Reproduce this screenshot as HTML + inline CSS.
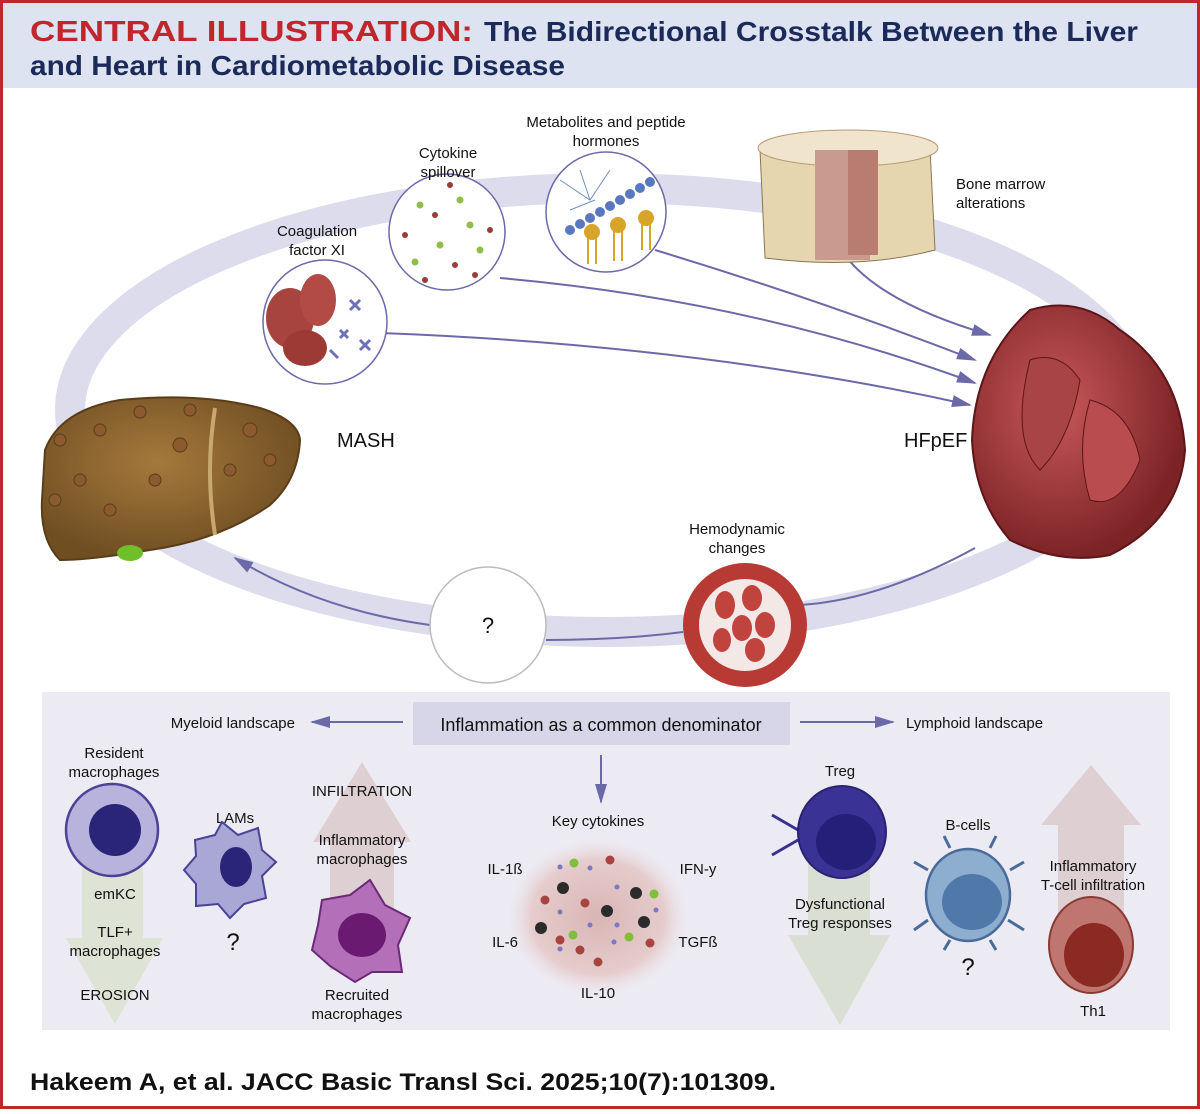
<!DOCTYPE html>
<html><head><meta charset="utf-8"><style>
html,body{margin:0;padding:0;background:#fff}
body{width:1200px;height:1109px;overflow:hidden;font-family:"Liberation Sans",sans-serif}
svg text{font-family:"Liberation Sans",sans-serif}
</style></head><body>
<svg width="1200" height="1109" viewBox="0 0 1200 1109" xmlns="http://www.w3.org/2000/svg">
<defs>
<marker id="ah2" markerWidth="20" markerHeight="12" refX="18" refY="6" orient="auto" markerUnits="userSpaceOnUse"><path d="M0,0 L20,6 L0,12 Z" fill="#6b69a8"/></marker>
<radialGradient id="cyt" cx="50%" cy="50%" r="50%"><stop offset="0" stop-color="#d9b5b5"/><stop offset="0.7" stop-color="#e6cccc"/><stop offset="1" stop-color="#ecebf3" stop-opacity="0"/></radialGradient>
<radialGradient id="liv" cx="45%" cy="40%" r="60%"><stop offset="0" stop-color="#a5793c"/><stop offset="1" stop-color="#6f4e22"/></radialGradient>
<radialGradient id="hrt" cx="40%" cy="40%" r="60%"><stop offset="0" stop-color="#c8585a"/><stop offset="1" stop-color="#7c2326"/></radialGradient>
</defs>
<rect x="0" y="0" width="1200" height="1109" fill="#fff"/>
<rect x="0" y="0" width="1200" height="88" fill="#dde3f1"/>
<rect x="1.5" y="1.5" width="1197" height="1106" fill="none" stroke="#c0272d" stroke-width="3"/>
<text x="30" y="41" font-size="29" font-weight="bold" fill="#c0272d" textLength="443" lengthAdjust="spacingAndGlyphs">CENTRAL ILLUSTRATION:</text>
<text x="484" y="41" font-size="28" font-weight="bold" fill="#1c2a5a" textLength="654" lengthAdjust="spacingAndGlyphs">The Bidirectional Crosstalk Between the Liver</text>
<text x="30" y="75" font-size="28" font-weight="bold" fill="#1c2a5a" textLength="535" lengthAdjust="spacingAndGlyphs">and Heart in Cardiometabolic Disease</text>

<!-- ring -->
<ellipse cx="605" cy="410" rx="535" ry="222" fill="none" stroke="#dcdcec" stroke-width="30"/>

<!-- arrows to heart -->
<path d="M380,333 Q700,345 970,405" fill="none" stroke="#6b69a8" stroke-width="2" marker-end="url(#ah2)"/>
<path d="M500,278 Q750,300 975,383" fill="none" stroke="#6b69a8" stroke-width="2" marker-end="url(#ah2)"/>
<path d="M655,250 Q820,300 975,360" fill="none" stroke="#6b69a8" stroke-width="2" marker-end="url(#ah2)"/>
<path d="M838,245 Q870,300 990,335" fill="none" stroke="#6b69a8" stroke-width="2" marker-end="url(#ah2)"/>
<path d="M975,548 Q880,600 800,605" fill="none" stroke="#6b69a8" stroke-width="2"/>
<path d="M683,632 Q620,640 546,640" fill="none" stroke="#6b69a8" stroke-width="2"/>
<path d="M430,625 Q320,610 235,558" fill="none" stroke="#6b69a8" stroke-width="2" marker-end="url(#ah2)"/>

<!-- coag circle -->
<circle cx="325" cy="322" r="62" fill="#fff" stroke="#6b69a8" stroke-width="1.5"/>
<ellipse cx="290" cy="318" rx="24" ry="30" fill="#a8443f"/>
<ellipse cx="318" cy="300" rx="18" ry="26" fill="#b24a45"/>
<ellipse cx="305" cy="348" rx="22" ry="18" fill="#9c3a36"/>
<g stroke="#6d72b8" stroke-width="3"><path d="M350,300 l10,10 m0,-10 l-10,10"/><path d="M360,340 l10,10 m0,-10 l-10,10"/><path d="M340,330 l8,8 m0,-8 l-8,8"/><path d="M330,350 l8,8"/></g>
<text x="317" y="236" font-size="15" text-anchor="middle" fill="#111">Coagulation</text>
<text x="317" y="255" font-size="15" text-anchor="middle" fill="#111">factor XI</text>

<!-- cytokine circle -->
<circle cx="447" cy="232" r="58" fill="#fff" stroke="#6b69a8" stroke-width="1.5"/>
<g fill="#8fbf4a"><circle cx="420" cy="205" r="3.5"/><circle cx="460" cy="200" r="3.5"/><circle cx="440" cy="245" r="3.5"/><circle cx="480" cy="250" r="3.5"/><circle cx="415" cy="262" r="3.5"/><circle cx="470" cy="225" r="3.5"/></g>
<g fill="#9a3c3a"><circle cx="435" cy="215" r="3"/><circle cx="455" cy="265" r="3"/><circle cx="405" cy="235" r="3"/><circle cx="490" cy="230" r="3"/><circle cx="425" cy="280" r="3"/><circle cx="475" cy="275" r="3"/><circle cx="450" cy="185" r="3"/></g>
<text x="448" y="158" font-size="15" text-anchor="middle" fill="#111">Cytokine</text>
<text x="448" y="177" font-size="15" text-anchor="middle" fill="#111">spillover</text>

<!-- metabolites circle -->
<circle cx="606" cy="212" r="60" fill="#fff" stroke="#6b69a8" stroke-width="1.5"/>
<g stroke="#7090c0" stroke-width="1" fill="none"><path d="M560,180 l30,20 l20,-30 M570,210 l25,-10 M580,170 l10,30"/></g>
<g fill="#5a78c0"><circle cx="570" cy="230" r="5"/><circle cx="580" cy="224" r="5"/><circle cx="590" cy="218" r="5"/><circle cx="600" cy="212" r="5"/><circle cx="610" cy="206" r="5"/><circle cx="620" cy="200" r="5"/><circle cx="630" cy="194" r="5"/><circle cx="640" cy="188" r="5"/><circle cx="650" cy="182" r="5"/></g>
<g fill="#d9a42a" stroke="#d9a42a" stroke-width="2"><circle cx="592" cy="232" r="7"/><circle cx="618" cy="225" r="7"/><circle cx="646" cy="218" r="7"/><path d="M588,238 v26 M596,238 v26 M614,231 v30 M622,231 v30 M642,224 v26 M650,224 v26" fill="none"/></g>
<text x="606" y="127" font-size="15" text-anchor="middle" fill="#111">Metabolites and peptide</text>
<text x="606" y="146" font-size="15" text-anchor="middle" fill="#111">hormones</text>

<!-- bone marrow -->
<path d="M760,150 Q840,130 930,148 L935,250 Q860,270 765,258 Z" fill="#e5d6b0" stroke="#8a7650"/>
<ellipse cx="848" cy="148" rx="90" ry="18" fill="#f1e4cc" stroke="#b89a78"/>
<rect x="815" y="150" width="55" height="110" fill="#c99b90"/>
<rect x="848" y="150" width="30" height="105" fill="#b87c70"/>
<text x="956" y="189" font-size="15" fill="#111">Bone marrow</text>
<text x="956" y="208" font-size="15" fill="#111">alterations</text>

<!-- liver -->
<path d="M45,450 Q60,410 120,400 Q200,392 260,408 Q298,420 300,440 Q298,480 270,505 Q220,540 150,550 Q90,560 60,560 Q40,540 42,500 Z" fill="url(#liv)" stroke="#5a3d18" stroke-width="2"/>
<path d="M215,408 Q205,470 215,535" stroke="#c9a870" stroke-width="4" fill="none"/>
<ellipse cx="130" cy="553" rx="13" ry="8" fill="#6fbf2a"/>
<g fill="#8b5a2e" stroke="#5a3d18"><circle cx="100" cy="430" r="6"/><circle cx="140" cy="412" r="6"/><circle cx="180" cy="445" r="7"/><circle cx="250" cy="430" r="7"/><circle cx="270" cy="460" r="6"/><circle cx="80" cy="480" r="6"/><circle cx="155" cy="480" r="6"/><circle cx="110" cy="510" r="6"/><circle cx="230" cy="470" r="6"/><circle cx="55" cy="500" r="6"/><circle cx="190" cy="410" r="6"/><circle cx="60" cy="440" r="6"/></g>
<text x="337" y="447" font-size="20" fill="#111">MASH</text>

<!-- heart -->
<path d="M1030,310 Q1080,295 1120,330 Q1180,370 1185,450 Q1180,520 1110,555 Q1060,565 1010,540 Q975,500 972,440 Q975,360 1030,310 Z" fill="url(#hrt)" stroke="#5d1518" stroke-width="2"/>
<path d="M1030,360 Q1060,350 1080,380 Q1070,440 1040,470 Q1010,440 1030,360 Z" fill="#a94446" stroke="#5d1518"/>
<path d="M1090,400 Q1130,410 1140,460 Q1120,510 1090,500 Q1075,450 1090,400 Z" fill="#b84c4e" stroke="#5d1518"/>
<text x="904" y="447" font-size="20" fill="#111">HFpEF</text>

<!-- question circle -->
<circle cx="488" cy="625" r="58" fill="#fff" stroke="#bbb" stroke-width="1.5"/>
<text x="488" y="633" font-size="22" text-anchor="middle" fill="#111">?</text>

<!-- hemodynamic -->
<circle cx="745" cy="625" r="62" fill="#b83a34"/>
<circle cx="745" cy="625" r="46" fill="#f3e8e6"/>
<g fill="#c1433d"><ellipse cx="725" cy="605" rx="10" ry="14"/><ellipse cx="752" cy="598" rx="10" ry="13"/><ellipse cx="765" cy="625" rx="10" ry="13"/><ellipse cx="742" cy="628" rx="10" ry="13"/><ellipse cx="722" cy="640" rx="9" ry="12"/><ellipse cx="755" cy="650" rx="10" ry="12"/></g>
<text x="737" y="534" font-size="15" text-anchor="middle" fill="#111">Hemodynamic</text>
<text x="737" y="553" font-size="15" text-anchor="middle" fill="#111">changes</text>

<!-- bottom panel -->
<rect x="42" y="692" width="1128" height="338" fill="#ecebf3"/>
<rect x="413" y="702" width="377" height="43" fill="#d6d6e8"/>
<text x="601" y="731" font-size="18" text-anchor="middle" fill="#111">Inflammation as a common denominator</text>
<line x1="403" y1="722" x2="312" y2="722" stroke="#6b69a8" stroke-width="2" marker-end="url(#ah2)"/>
<line x1="800" y1="722" x2="893" y2="722" stroke="#6b69a8" stroke-width="2" marker-end="url(#ah2)"/>
<line x1="601" y1="755" x2="601" y2="802" stroke="#6b69a8" stroke-width="2" marker-end="url(#ah2)"/>
<text x="295" y="728" font-size="15" text-anchor="end" fill="#111">Myeloid landscape</text>
<text x="906" y="728" font-size="15" fill="#111">Lymphoid landscape</text>

<path d="M82,868 L143,868 L143,938 L163,938 L115,1024 L66,938 L82,938 Z" fill="#dde4d6"/>
<path d="M362,762 L411,842 L394,842 L394,970 L330,970 L330,842 L313,842 Z" fill="#ddcfd2"/>
<path d="M1091,765 L1141,825 L1124,825 L1124,960 L1058,960 L1058,825 L1041,825 Z" fill="#ddcfd2"/>
<path d="M808,850 L870,850 L870,935 L890,935 L840,1025 L788,935 L808,935 Z" fill="#d9e0d3"/>

<text x="114" y="758" font-size="15" text-anchor="middle" fill="#111">Resident</text>
<text x="114" y="777" font-size="15" text-anchor="middle" fill="#111">macrophages</text>
<circle cx="112" cy="830" r="46" fill="#b7b3dd" stroke="#4b4196" stroke-width="2.5"/>
<circle cx="115" cy="830" r="26" fill="#2a2578"/>
<text x="115" y="899" font-size="15" text-anchor="middle" fill="#111">emKC</text>
<text x="115" y="937" font-size="15" text-anchor="middle" fill="#111">TLF+</text>
<text x="115" y="956" font-size="15" text-anchor="middle" fill="#111">macrophages</text>
<text x="115" y="1000" font-size="15" text-anchor="middle" fill="#111">EROSION</text>

<text x="235" y="823" font-size="15" text-anchor="middle" fill="#111">LAMs</text>
<path d="M195,840 L215,835 L222,822 L238,835 L258,828 L262,850 L276,862 L262,876 L266,898 L244,904 L230,918 L218,904 L196,906 L196,884 L184,870 L196,856 Z" fill="#a8a7d6" stroke="#4b4196" stroke-width="2"/>
<ellipse cx="236" cy="867" rx="16" ry="20" fill="#2a2578"/>
<text x="233" y="950" font-size="24" text-anchor="middle" fill="#111">?</text>

<text x="362" y="796" font-size="15" text-anchor="middle" fill="#111">INFILTRATION</text>
<text x="362" y="845" font-size="15" text-anchor="middle" fill="#111">Inflammatory</text>
<text x="362" y="864" font-size="15" text-anchor="middle" fill="#111">macrophages</text>
<path d="M322,900 L350,895 L370,880 L385,905 L410,918 L398,945 L402,972 L372,972 L355,982 L330,966 L312,950 L318,925 Z" fill="#b370b8" stroke="#6a2a78" stroke-width="2"/>
<ellipse cx="362" cy="935" rx="24" ry="22" fill="#6a1a70"/>
<text x="357" y="1000" font-size="15" text-anchor="middle" fill="#111">Recruited</text>
<text x="357" y="1019" font-size="15" text-anchor="middle" fill="#111">macrophages</text>

<text x="598" y="826" font-size="15" text-anchor="middle" fill="#111">Key cytokines</text>
<ellipse cx="598" cy="917" rx="95" ry="82" fill="url(#cyt)"/>
<g fill="#2b2b2b"><circle cx="563" cy="888" r="6"/><circle cx="541" cy="928" r="6"/><circle cx="636" cy="893" r="6"/><circle cx="607" cy="911" r="6"/><circle cx="644" cy="922" r="6"/></g>
<g fill="#a8443f"><circle cx="545" cy="900" r="4.5"/><circle cx="585" cy="903" r="4.5"/><circle cx="610" cy="860" r="4.5"/><circle cx="650" cy="943" r="4.5"/><circle cx="580" cy="950" r="4.5"/><circle cx="598" cy="962" r="4.5"/><circle cx="560" cy="940" r="4.5"/></g>
<g fill="#7fbf3a"><circle cx="574" cy="863" r="4.5"/><circle cx="654" cy="894" r="4.5"/><circle cx="573" cy="935" r="4.5"/><circle cx="629" cy="937" r="4.5"/></g>
<g fill="#7a78c0"><circle cx="560" cy="867" r="2.5"/><circle cx="590" cy="868" r="2.5"/><circle cx="560" cy="912" r="2.5"/><circle cx="590" cy="925" r="2.5"/><circle cx="617" cy="887" r="2.5"/><circle cx="656" cy="910" r="2.5"/><circle cx="617" cy="925" r="2.5"/><circle cx="560" cy="949" r="2.5"/><circle cx="614" cy="942" r="2.5"/></g>
<text x="505" y="874" font-size="15" text-anchor="middle" fill="#111">IL-1ß</text>
<text x="505" y="947" font-size="15" text-anchor="middle" fill="#111">IL-6</text>
<text x="698" y="874" font-size="15" text-anchor="middle" fill="#111">IFN-y</text>
<text x="698" y="947" font-size="15" text-anchor="middle" fill="#111">TGFß</text>
<text x="598" y="998" font-size="15" text-anchor="middle" fill="#111">IL-10</text>

<text x="840" y="776" font-size="15" text-anchor="middle" fill="#111">Treg</text>
<g stroke="#3a3090" stroke-width="3" fill="none"><path d="M798,830 L772,815 M798,840 L772,855"/><path d="M798,830 L820,830 M798,840 L820,840"/></g>
<ellipse cx="842" cy="832" rx="44" ry="46" fill="#3a3294" stroke="#2a2272" stroke-width="2"/>
<ellipse cx="846" cy="842" rx="30" ry="28" fill="#24207a"/>
<text x="840" y="909" font-size="15" text-anchor="middle" fill="#111">Dysfunctional</text>
<text x="840" y="928" font-size="15" text-anchor="middle" fill="#111">Treg responses</text>

<text x="968" y="830" font-size="15" text-anchor="middle" fill="#111">B-cells</text>
<g stroke="#4a6a9a" stroke-width="3"><path d="M928,870 L914,862 M1010,870 L1024,862 M928,920 L914,930 M1008,920 L1024,930 M950,848 L944,836 M990,848 L996,836 M950,940 L944,950 M990,940 L996,950"/></g>
<ellipse cx="968" cy="895" rx="42" ry="46" fill="#8eaed0" stroke="#4a6a9a" stroke-width="2.5"/>
<ellipse cx="972" cy="902" rx="30" ry="28" fill="#5078a8"/>
<text x="968" y="975" font-size="24" text-anchor="middle" fill="#111">?</text>

<text x="1093" y="871" font-size="15" text-anchor="middle" fill="#111">Inflammatory</text>
<text x="1093" y="890" font-size="15" text-anchor="middle" fill="#111">T-cell infiltration</text>
<ellipse cx="1091" cy="945" rx="42" ry="48" fill="#c07670" stroke="#8a3a34" stroke-width="2"/>
<ellipse cx="1094" cy="955" rx="30" ry="32" fill="#8a2a22"/>
<text x="1093" y="1016" font-size="15" text-anchor="middle" fill="#111">Th1</text>

<text x="30" y="1090" font-size="24" font-weight="bold" fill="#111" textLength="746" lengthAdjust="spacingAndGlyphs">Hakeem A, et al. JACC Basic Transl Sci. 2025;10(7):101309.</text>
</svg>
</body></html>
